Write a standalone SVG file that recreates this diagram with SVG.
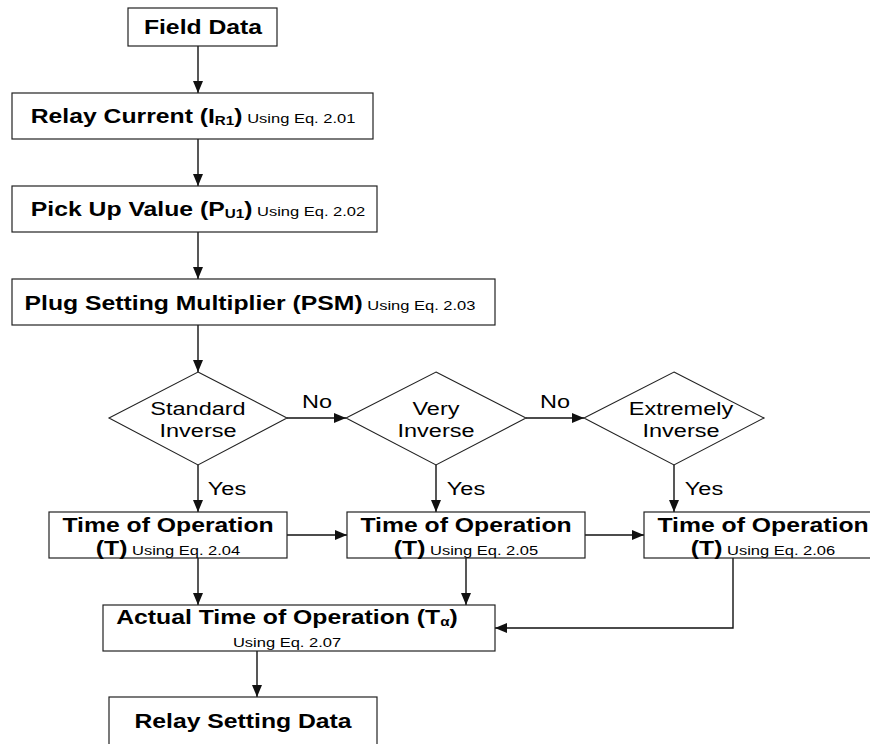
<svg xmlns="http://www.w3.org/2000/svg" width="870" height="744" viewBox="0 0 870 744">
<style>
.box{fill:#fff;stroke:#222;stroke-width:1.2}
.dia{fill:#fff;stroke:#222;stroke-width:1.1}
.con{fill:none;stroke:#111;stroke-width:1.4;marker-end:url(#ah)}
text{font-family:"Liberation Sans",Arial,sans-serif;fill:#000;text-anchor:middle}
.b{font-weight:bold;font-size:19.5px}
.s{font-weight:normal;font-size:13px}
.sub{font-weight:bold;font-size:12px}
.r{font-size:18.5px}
</style>
<defs>
<marker id="ah" markerUnits="userSpaceOnUse" markerWidth="12" markerHeight="10" refX="12" refY="5" orient="auto">
<path d="M0,0 L12,5 L0,10 Z" fill="#111"/>
</marker>
</defs>
<rect width="870" height="744" fill="#fff"/>
<g id="connectors">
<path class="con" d="M198,46 V93"/>
<path class="con" d="M198,139 V186"/>
<path class="con" d="M198,232 V279"/>
<path class="con" d="M198,325 V372"/>
<path class="con" d="M287,418 H346"/>
<path class="con" d="M526,418 H584"/>
<path class="con" d="M198,465 V512"/>
<path class="con" d="M436,465 V512"/>
<path class="con" d="M674,465 V512"/>
<path class="con" d="M287,535 H347"/>
<path class="con" d="M585,535 H644"/>
<path class="con" d="M198,558 V605"/>
<path class="con" d="M466,558 V605"/>
<path class="con" d="M733,558 V628 H495"/>
<path class="con" d="M257,651 V697"/>
<text class="r" transform="translate(317,408) scale(1.27,1)">No</text>
<text class="r" transform="translate(555,408) scale(1.27,1)">No</text>
<text class="r" transform="translate(227,495) scale(1.27,1)">Yes</text>
<text class="r" transform="translate(466,495) scale(1.27,1)">Yes</text>
<text class="r" transform="translate(704,495) scale(1.27,1)">Yes</text>
</g>
<g id="field-data">
<rect class="box" x="128" y="8" width="149" height="38"/>
<text class="b" transform="translate(203,34) scale(1.27,1)">Field Data</text>
</g>
<g id="relay-current">
<rect class="box" x="12" y="93" width="361" height="46"/>
<text transform="translate(193,123) scale(1.27,1)"><tspan class="b">Relay Current (I</tspan><tspan class="sub" dy="2">R1</tspan><tspan class="b" dy="-2">)</tspan><tspan class="s"> Using Eq. 2.01</tspan></text>
</g>
<g id="pick-up">
<rect class="box" x="12" y="186" width="365" height="46"/>
<text transform="translate(198,216) scale(1.27,1)"><tspan class="b">Pick Up Value (P</tspan><tspan class="sub" dy="2">U1</tspan><tspan class="b" dy="-2">)</tspan><tspan class="s"> Using Eq. 2.02</tspan></text>
</g>
<g id="psm">
<rect class="box" x="12" y="279" width="483" height="46"/>
<text transform="translate(250,310) scale(1.27,1)"><tspan class="b">Plug Setting Multiplier (PSM)</tspan><tspan class="s"> Using Eq. 2.03</tspan></text>
</g>
<g id="standard-inverse">
<polygon class="dia" points="198,372 287,418 198,465 109,418"/>
<text class="r" transform="translate(198,415) scale(1.27,1)">Standard</text>
<text class="r" transform="translate(198,437) scale(1.27,1)">Inverse</text>
</g>
<g id="very-inverse">
<polygon class="dia" points="436,372 526,418 436,465 346,418"/>
<text class="r" transform="translate(436,415) scale(1.27,1)">Very</text>
<text class="r" transform="translate(436,437) scale(1.27,1)">Inverse</text>
</g>
<g id="extremely-inverse">
<polygon class="dia" points="674,372 764,418 674,465 584,418"/>
<text class="r" transform="translate(681,415) scale(1.27,1)">Extremely</text>
<text class="r" transform="translate(681,437) scale(1.27,1)">Inverse</text>
</g>
<g id="time-op-1">
<rect class="box" x="49" y="512" width="238" height="46"/>
<text class="b" transform="translate(168,532) scale(1.27,1)">Time of Operation</text>
<text transform="translate(168,555) scale(1.27,1)"><tspan class="b">(T)</tspan><tspan class="s"> Using Eq. 2.04</tspan></text>
</g>
<g id="time-op-2">
<rect class="box" x="347" y="512" width="238" height="46"/>
<text class="b" transform="translate(466,532) scale(1.27,1)">Time of Operation</text>
<text transform="translate(466,555) scale(1.27,1)"><tspan class="b">(T)</tspan><tspan class="s"> Using Eq. 2.05</tspan></text>
</g>
<g id="time-op-3">
<rect class="box" x="644" y="512" width="238" height="46"/>
<text class="b" transform="translate(763,532) scale(1.27,1)">Time of Operation</text>
<text transform="translate(763,555) scale(1.27,1)"><tspan class="b">(T)</tspan><tspan class="s"> Using Eq. 2.06</tspan></text>
</g>
<g id="actual-time">
<rect class="box" x="103" y="605" width="392" height="46"/>
<text transform="translate(287,624) scale(1.27,1)"><tspan class="b">Actual Time of Operation (T</tspan><tspan class="sub" dy="2">α</tspan><tspan class="b" dy="-2">)</tspan></text>
<text class="s" transform="translate(287,647) scale(1.27,1)">Using Eq. 2.07</text>
</g>
<g id="relay-setting">
<rect class="box" x="109" y="697" width="268" height="60"/>
<text class="b" transform="translate(243,728) scale(1.27,1)">Relay Setting Data</text>
</g>
</svg>
